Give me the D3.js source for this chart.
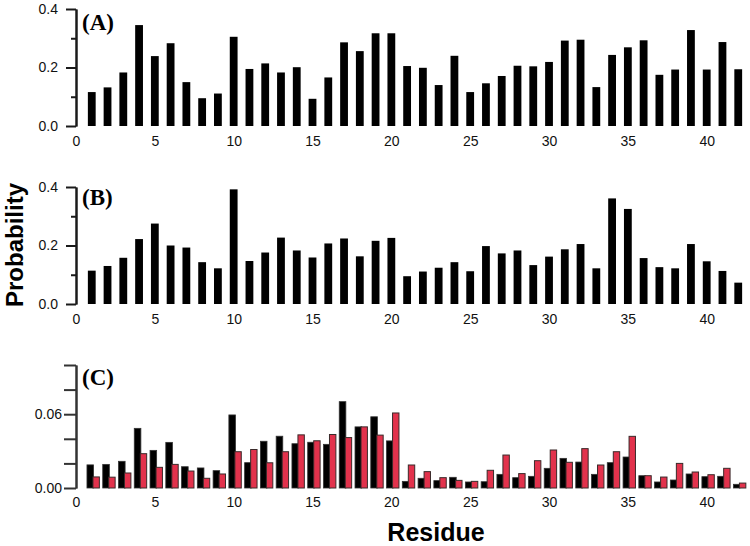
<!DOCTYPE html>
<html>
<head>
<meta charset="utf-8">
<script src="https://cdn.jsdelivr.net/npm/d3@7"></script>
<style>
  body { margin: 0; background: #fff; }
  svg { display: block; }
</style>
</head>
<body>
<svg id="chart" width="750" height="546"></svg>
<script>
const residues = [1,2,3,4,5,6,7,8,9,10,11,12,13,14,15,16,17,18,19,20,21,22,23,24,25,26,27,28,29,30,31,32,33,34,35,36,37,38,39,40,41,42];

const probA = [0.116,0.132,0.183,0.345,0.239,0.283,0.150,0.095,0.111,0.305,
               0.195,0.214,0.183,0.201,0.093,0.166,0.286,0.256,0.317,0.317,
               0.205,0.199,0.140,0.240,0.116,0.146,0.171,0.206,0.204,0.219,
               0.292,0.295,0.133,0.243,0.269,0.293,0.175,0.193,0.328,0.193,
               0.287,0.194];

const probB = [0.114,0.130,0.158,0.222,0.275,0.200,0.193,0.143,0.122,0.392,
               0.147,0.176,0.227,0.183,0.159,0.207,0.224,0.163,0.216,0.226,
               0.095,0.111,0.124,0.143,0.112,0.198,0.173,0.183,0.133,0.162,
               0.187,0.205,0.122,0.361,0.325,0.157,0.126,0.122,0.205,0.146,
               0.113,0.073];

const probC1 = [0.0188,0.0192,0.0217,0.0485,0.0306,0.0371,0.0173,0.0163,0.0141,0.0594,
                0.0206,0.0380,0.0421,0.0360,0.0372,0.0355,0.0702,0.0497,0.0579,0.0383,
                0.0054,0.0079,0.0060,0.0087,0.0049,0.0051,0.0111,0.0084,0.0095,0.0160,
                0.0241,0.0211,0.0111,0.0206,0.0252,0.0100,0.0049,0.0065,0.0114,0.0092,
                0.0095,0.0030];

const probC2 = [0.0090,0.0088,0.0122,0.0279,0.0168,0.0192,0.0138,0.0079,0.0114,0.0295,
                0.0313,0.0205,0.0295,0.0432,0.0384,0.0435,0.0410,0.0497,0.0430,0.0610,
                0.0187,0.0133,0.0084,0.0062,0.0054,0.0144,0.0268,0.0117,0.0222,0.0309,
                0.0209,0.0320,0.0187,0.0295,0.0420,0.0100,0.0089,0.0200,0.0130,0.0108,
                0.0160,0.0040];

const xTickValues = [0,5,10,15,20,25,30,35,40];
const yTicksAB = [0.0,0.2,0.4];
const yMinorAB = [0.1,0.3];
const yTicksC = [0.00,0.06];
const yMinorC = [0.02,0.04,0.08,0.10];
const panelLabels = ["(A)","(B)","(C)"];

const sans = "'Liberation Sans', Arial, sans-serif";
const serif = "'Liberation Serif', 'Times New Roman', serif";

const svg = d3.select("#chart");
const x = d3.scaleLinear().domain([0, 43]).range([76, 754]);
const axisColor = "#1a1a1a";

function styleAxis(g) {
  g.selectAll("path.domain").attr("stroke", axisColor).attr("stroke-width", 2);
  g.selectAll(".tick line").attr("stroke", axisColor).attr("stroke-width", 2);
  g.selectAll(".tick text").style("font-size", "14px").style("font-family", sans).attr("fill", "#111");
}

function xLabels(y0, pad) {
  const g = svg.append("g").attr("transform", `translate(0,${y0})`)
    .call(d3.axisBottom(x).tickValues(xTickValues).tickSize(0).tickPadding(pad).tickFormat(d3.format("d")));
  g.select("path.domain").remove();
  styleAxis(g);
}

function panelLabel(text, y) {
  svg.append("text").attr("x", 82).attr("y", y).text(text)
    .style("font-family", serif).style("font-weight", "bold").style("font-size", "23px")
    .attr("fill", "#000");
}

// ---- Panels A & B ----
function blackPanel(data, y0, y1, label, labelY) {
  const y = d3.scaleLinear().domain([0, 0.4]).range([y0, y1]);
  svg.append("g").selectAll("rect").data(residues).join("rect")
    .attr("x", d => x(d) - 3.9).attr("width", 7.8)
    .attr("y", (d, i) => y(data[i])).attr("height", (d, i) => y(0) - y(data[i]))
    .attr("fill", "#000");
  const gMinor = svg.append("g").attr("transform", "translate(76,0)")
    .call(d3.axisLeft(y).tickValues(yMinorAB).tickSize(5).tickSizeOuter(0).tickFormat(""));
  styleAxis(gMinor);
  const gMajor = svg.append("g").attr("transform", "translate(76,0)")
    .call(d3.axisLeft(y).tickValues(yTicksAB).tickSize(10).tickPadding(8).tickSizeOuter(0).tickFormat(d3.format(".1f")));
  styleAxis(gMajor);
  xLabels(y0, 10);
  panelLabel(label, labelY);
}

blackPanel(probA, 126, 9, panelLabels[0], 30);
blackPanel(probB, 304, 187, panelLabels[1], 205);

// ---- Panel C ----
const yC = d3.scaleLinear().domain([0, 0.10]).range([488, 365]);
svg.append("g").selectAll("rect").data(residues).join("rect")
  .attr("x", d => x(d) - 4.8).attr("width", 6.6)
  .attr("y", (d, i) => yC(probC1[i])).attr("height", (d, i) => yC(0) - yC(probC1[i]))
  .attr("fill", "#000").attr("stroke", "#333").attr("stroke-width", 0.8);
svg.append("g").selectAll("rect").data(residues).join("rect")
  .attr("x", d => x(d) + 1.2).attr("width", 6.4)
  .attr("y", (d, i) => yC(probC2[i])).attr("height", (d, i) => yC(0) - yC(probC2[i]))
  .attr("fill", "#e2324c").attr("stroke", "#3a2a2a").attr("stroke-width", 1);

const gCminor = svg.append("g").attr("transform", "translate(76,0)")
  .call(d3.axisLeft(yC).tickValues(yMinorC).tickSize(12).tickSizeOuter(0).tickFormat(""));
styleAxis(gCminor);
gCminor.selectAll(".tick line").attr("stroke", "#333");
gCminor.select("path.domain").attr("stroke", "#333");
const gCmajor = svg.append("g").attr("transform", "translate(76,0)")
  .call(d3.axisLeft(yC).tickValues(yTicksC).tickSize(12).tickPadding(2).tickSizeOuter(0).tickFormat(d3.format(".2f")));
styleAxis(gCmajor);
gCmajor.selectAll(".tick line").attr("stroke", "#333");
gCmajor.select("path.domain").attr("stroke", "#333");
xLabels(488, 9);
panelLabel(panelLabels[2], 385);

// ---- Axis titles ----
svg.append("text").attr("transform", "translate(23,245) rotate(-90)")
  .attr("text-anchor", "middle").style("font-family", sans).style("font-weight", "bold")
  .style("font-size", "24px").attr("fill", "#000").text("Probability");
svg.append("text").attr("x", 436).attr("y", 541)
  .attr("text-anchor", "middle").style("font-family", sans).style("font-weight", "bold")
  .style("font-size", "25px").attr("fill", "#000").text("Residue");
</script>
</body>
</html>
